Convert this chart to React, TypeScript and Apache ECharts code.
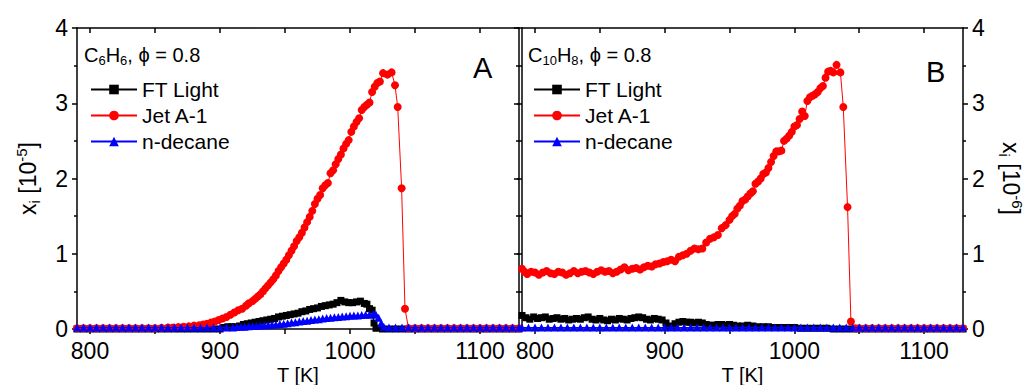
import React, { useEffect, useRef } from "react";
import * as echarts from "echarts";

const FONT = "'Liberation Sans', Arial, Helvetica, sans-serif";

const xMajor = [800, 900, 1000, 1100];
const xTicks = [800, 850, 900, 950, 1000, 1050, 1100];
const seriesNames = ["FT Light", "Jet A-1", "n-decane"];
const seriesColors = ["#000000", "#ff0000", "#0000ff"];
const seriesSymbols = ["rect", "circle", "triangle"];
const seriesSymbolSizes = [7, 8, 8];

// Panel A: C6H6, x_i in 1e-5
const A_ft: [number, number][] = [
  [790, 0], [795, 0], [800, 0], [805, 0], [810, 0], [815, 0], [820, 0], [825, 0], [830, 0], [835, 0],
  [840, 0], [845, 0], [850, 0], [855, 0], [860, 0], [865, 0], [870, 0], [875, 0], [880, 0], [885, 0],
  [890, 0], [895, 0], [900, 0], [903, 0.02], [906, 0.03], [909, 0.03], [912, 0.03], [915, 0.04], [918, 0.06],
  [921, 0.07], [924, 0.08], [927, 0.09], [930, 0.1], [933, 0.11], [936, 0.12], [939, 0.13], [942, 0.14],
  [945, 0.16], [948, 0.17], [951, 0.18], [954, 0.19], [957, 0.2], [960, 0.21], [963, 0.23], [966, 0.24],
  [969, 0.26], [972, 0.27], [975, 0.28], [978, 0.3], [981, 0.31], [984, 0.32], [987, 0.33], [990, 0.35],
  [993, 0.38], [996, 0.36], [999, 0.35], [1002, 0.35], [1005, 0.36], [1008, 0.37], [1011, 0.34], [1013, 0.33],
  [1015, 0.27], [1017, 0.25], [1018.5, 0.08], [1020, 0.01], [1025, 0], [1030, 0], [1035, 0], [1040, 0],
  [1045, 0], [1050, 0], [1055, 0], [1060, 0], [1065, 0], [1070, 0], [1075, 0], [1080, 0], [1085, 0],
  [1090, 0], [1095, 0], [1100, 0], [1105, 0], [1110, 0], [1115, 0], [1120, 0], [1125, 0], [1130, 0],
];
const A_jet: [number, number][] = [
  [790, 0.01], [795, 0.01], [800, 0.01], [805, 0.01], [810, 0.01], [815, 0.01], [820, 0.01], [825, 0.01],
  [830, 0.01], [835, 0.01], [840, 0.01], [845, 0.01], [850, 0.01], [855, 0.015], [860, 0.02], [864, 0.02],
  [868, 0.025], [872, 0.03], [876, 0.035], [880, 0.045], [884, 0.05], [887, 0.06], [890, 0.07], [893, 0.085],
  [896, 0.1], [899, 0.12], [902, 0.14], [905, 0.16], [908, 0.19], [911, 0.22], [914, 0.25], [917, 0.27],
  [920, 0.31], [922, 0.34], [925, 0.37], [927, 0.4], [929, 0.43], [931, 0.46], [933, 0.5], [935, 0.54],
  [937, 0.58], [939, 0.62], [941, 0.66], [943, 0.71], [945, 0.77], [947, 0.82], [949, 0.87], [951, 0.92],
  [953, 0.98], [955, 1.04], [957, 1.1], [959, 1.17], [961, 1.22], [963, 1.28], [965, 1.35], [967, 1.42],
  [969, 1.49], [971, 1.57], [973, 1.66], [975, 1.73], [977, 1.78], [979, 1.87], [981, 1.91], [983, 1.94],
  [985, 2.07], [987, 2.11], [989, 2.19], [991, 2.26], [993, 2.32], [995, 2.4], [997, 2.46], [999, 2.51],
  [1001, 2.62], [1003, 2.69], [1005, 2.75], [1007, 2.8], [1009, 2.91], [1011, 2.95], [1013, 2.98], [1015, 3.01],
  [1017, 3.15], [1019, 3.22], [1021, 3.27], [1023, 3.29], [1025.4, 3.4], [1028.8, 3.38], [1032, 3.41],
  [1034.6, 3.24], [1036.7, 2.95], [1039.7, 1.87], [1042.3, 0.27], [1045, 0.01], [1050, 0.01], [1055, 0.01],
  [1060, 0.01], [1065, 0.01], [1070, 0.01], [1075, 0.01], [1080, 0.01], [1085, 0.01], [1090, 0.01],
  [1095, 0.01], [1100, 0.01], [1105, 0.01], [1110, 0.01], [1115, 0.01], [1120, 0.01], [1125, 0.01], [1130, 0.01],
];
const A_dec: [number, number][] = [
  [790, 0.02], [795, 0.02], [800, 0.02], [805, 0.02], [810, 0.02], [815, 0.02], [820, 0.02], [825, 0.02],
  [830, 0.02], [835, 0.02], [840, 0.02], [845, 0.02], [850, 0.02], [855, 0.02], [860, 0.02], [865, 0.02],
  [870, 0.02], [875, 0.02], [880, 0.02], [885, 0.02], [890, 0.02], [895, 0.02], [900, 0.02], [905, 0.02],
  [910, 0.02], [913, 0.025], [916, 0.03], [919, 0.03], [922, 0.035], [925, 0.04], [928, 0.04], [931, 0.045],
  [934, 0.05], [937, 0.05], [940, 0.055], [943, 0.06], [946, 0.065], [949, 0.07], [952, 0.075], [955, 0.085],
  [958, 0.09], [961, 0.1], [964, 0.105], [967, 0.11], [970, 0.12], [973, 0.125], [976, 0.13], [979, 0.14],
  [982, 0.145], [985, 0.15], [988, 0.155], [991, 0.16], [994, 0.165], [997, 0.17], [1000, 0.175], [1003, 0.18],
  [1006, 0.18], [1009, 0.185], [1012, 0.19], [1015, 0.19], [1018, 0.2], [1020, 0.19], [1022, 0.15], [1024, 0.08],
  [1026, 0.03], [1030, 0.02], [1035, 0.02], [1040, 0.02], [1045, 0.02], [1050, 0.02], [1055, 0.02], [1060, 0.02],
  [1065, 0.02], [1070, 0.02], [1075, 0.02], [1080, 0.02], [1085, 0.02], [1090, 0.02], [1095, 0.02], [1100, 0.02],
  [1105, 0.02], [1110, 0.02], [1115, 0.02], [1120, 0.02], [1125, 0.02], [1130, 0.02],
];

// Panel B: C10H8, x_i in 1e-6
const B_ft: [number, number][] = [
  [790, 0.18], [793, 0.15], [796, 0.13], [799, 0.16], [802, 0.14], [805, 0.15], [808, 0.16], [811, 0.13],
  [814, 0.14], [817, 0.15], [820, 0.13], [823, 0.14], [826, 0.12], [829, 0.13], [832, 0.14], [835, 0.13],
  [838, 0.15], [841, 0.16], [844, 0.13], [847, 0.12], [850, 0.14], [853, 0.12], [856, 0.11], [859, 0.13],
  [862, 0.12], [865, 0.14], [868, 0.13], [871, 0.12], [874, 0.14], [877, 0.15], [880, 0.16], [883, 0.15],
  [886, 0.13], [889, 0.12], [892, 0.14], [895, 0.13], [898, 0.12], [901, 0.08], [903, 0.04], [905, 0.02],
  [908, 0.07], [911, 0.09], [914, 0.1], [917, 0.09], [920, 0.09], [923, 0.08], [926, 0.09], [929, 0.08],
  [932, 0.06], [935, 0.05], [938, 0.05], [941, 0.06], [944, 0.06], [947, 0.05], [950, 0.06], [953, 0.05],
  [956, 0.04], [960, 0.04], [964, 0.05], [968, 0.04], [972, 0.03], [976, 0.03], [980, 0.03], [985, 0.02],
  [990, 0.02], [995, 0.02], [1000, 0.02], [1005, 0.01], [1010, 0.01], [1015, 0.01], [1020, 0.01], [1025, 0.01],
  [1030, 0], [1035, 0], [1040, 0], [1045, 0], [1050, 0], [1055, 0], [1060, 0], [1065, 0], [1070, 0], [1075, 0],
  [1080, 0], [1085, 0], [1090, 0], [1095, 0], [1100, 0], [1105, 0], [1110, 0], [1115, 0], [1120, 0], [1125, 0], [1130, 0],
];
const B_jet: [number, number][] = [
  [790, 0.8], [792, 0.76], [794, 0.73], [797, 0.76], [800, 0.75], [803, 0.72], [806, 0.75], [809, 0.77],
  [812, 0.74], [815, 0.73], [818, 0.76], [821, 0.75], [824, 0.72], [827, 0.74], [830, 0.77], [833, 0.74],
  [836, 0.76], [839, 0.77], [842, 0.75], [845, 0.73], [848, 0.76], [851, 0.78], [854, 0.76], [857, 0.77],
  [860, 0.74], [863, 0.76], [866, 0.79], [869, 0.82], [872, 0.78], [875, 0.8], [878, 0.81], [881, 0.79],
  [884, 0.82], [887, 0.84], [890, 0.83], [893, 0.86], [896, 0.87], [899, 0.89], [902, 0.9], [905, 0.92],
  [908, 0.9], [911, 0.96], [914, 0.98], [917, 1.0], [920, 1.04], [923, 1.07], [926, 1.06], [929, 1.07],
  [932, 1.15], [935, 1.2], [938, 1.22], [941, 1.25], [944, 1.34], [947, 1.38], [950, 1.45], [952, 1.5],
  [954, 1.53], [956, 1.6], [958, 1.64], [960, 1.7], [962, 1.72], [964, 1.76], [966, 1.8], [968, 1.83],
  [970, 1.93], [972, 1.96], [974, 2.0], [976, 2.06], [978, 2.08], [980, 2.14], [982, 2.22], [984, 2.3],
  [986, 2.36], [988, 2.36], [990, 2.37], [992, 2.5], [994, 2.53], [996, 2.57], [998, 2.62], [1000, 2.69],
  [1002, 2.71], [1004, 2.79], [1006, 2.89], [1008, 2.83], [1010, 3.03], [1012, 3.08], [1014, 3.1], [1016, 3.12],
  [1018, 3.15], [1020, 3.2], [1022, 3.23], [1024, 3.34], [1026, 3.42], [1028, 3.43], [1030, 3.41], [1032.5, 3.51],
  [1035.5, 3.41], [1037.7, 2.95], [1041, 1.62], [1043.6, 0.1], [1047, 0.01], [1050, 0.01], [1055, 0.01],
  [1060, 0.01], [1065, 0.01], [1070, 0.01], [1075, 0.01], [1080, 0.01], [1085, 0.01], [1090, 0.01], [1095, 0.01],
  [1100, 0.01], [1105, 0.01], [1110, 0.01], [1115, 0.01], [1120, 0.01], [1125, 0.01], [1130, 0.01],
];
const B_dec: [number, number][] = [
  [790, 0.02], [795, 0.02], [800, 0.02], [805, 0.02], [810, 0.02], [815, 0.02], [820, 0.02], [825, 0.02],
  [830, 0.02], [835, 0.02], [840, 0.02], [845, 0.02], [850, 0.02], [855, 0.02], [860, 0.02], [865, 0.02],
  [870, 0.02], [875, 0.02], [880, 0.02], [885, 0.02], [890, 0.02], [895, 0.02], [900, 0.02], [905, 0.02],
  [910, 0.02], [915, 0.02], [920, 0.02], [925, 0.02], [930, 0.02], [935, 0.02], [940, 0.02], [945, 0.02],
  [950, 0.02], [955, 0.02], [960, 0.02], [965, 0.02], [970, 0.02], [975, 0.02], [980, 0.02], [985, 0.02],
  [990, 0.02], [995, 0.02], [1000, 0.02], [1005, 0.02], [1010, 0.02], [1015, 0.02], [1020, 0.02], [1025, 0.02],
  [1030, 0.02], [1035, 0.02], [1040, 0.02], [1045, 0.02], [1050, 0.02], [1055, 0.02], [1060, 0.02], [1065, 0.02],
  [1070, 0.02], [1075, 0.02], [1080, 0.02], [1085, 0.02], [1090, 0.02], [1095, 0.02], [1100, 0.02], [1105, 0.02],
  [1110, 0.02], [1115, 0.02], [1120, 0.02], [1125, 0.02], [1130, 0.02],
];

const panelAData = [A_ft, A_jet, A_dec];
const panelBData = [B_ft, B_jet, B_dec];

function buildOption(): any {
  const black = "#000";
  const axisLine = { show: true, onZero: false, lineStyle: { color: black, width: 1.5 } };
  const tickStyle = { color: black, width: 1.5 };
  const plain = (v: number) => String(v);

  const xAxis: any[] = [];
  [0, 1].forEach((g) => {
    xAxis.push({
      type: "value", gridIndex: g, position: "bottom", min: 790, max: 1130,
      axisLine,
      axisTick: { show: true, inside: false, length: 5, customValues: xTicks, lineStyle: tickStyle },
      axisLabel: { show: true, customValues: xMajor, formatter: plain, fontSize: 23, color: black, fontFamily: FONT, margin: 10 },
      splitLine: { show: false },
      name: "T [K]", nameLocation: "middle", nameGap: 36, nameMoveOverlap: false,
      nameTextStyle: { fontSize: 20, color: black, fontFamily: FONT },
    });
    xAxis.push({
      type: "value", gridIndex: g, position: "top", min: 790, max: 1130,
      axisLine,
      axisTick: { show: true, inside: true, length: 5, customValues: xTicks, lineStyle: tickStyle },
      axisLabel: { show: false },
      splitLine: { show: false },
    });
  });

  const rich = {
    n: { fontSize: 23, fontFamily: FONT, color: black, lineHeight: 28 },
    s: { fontSize: 15, fontFamily: FONT, color: black, lineHeight: 15, verticalAlign: "bottom" },
    p: { fontSize: 15, fontFamily: FONT, color: black, lineHeight: 15, verticalAlign: "top" },
  };

  const yBase = (g: number, pos: string, inside: boolean, labels: boolean) => ({
    type: "value", gridIndex: g, position: pos, min: 0, max: 4, interval: 1,
    axisLine,
    axisTick: { show: true, inside, length: 5, lineStyle: tickStyle },
    minorTick: { show: true, splitNumber: 2, length: 3, lineStyle: tickStyle },
    axisLabel: { show: labels, formatter: plain, fontSize: 23, color: black, fontFamily: FONT, margin: 9 },
    splitLine: { show: false },
    minorSplitLine: { show: false },
  });

  const yAxis: any[] = [
    {
      ...yBase(0, "left", false, true),
      name: "{n|x}{s|i}{n| [10}{p|-5}{n|]}", nameLocation: "middle", nameGap: 35, nameRotate: 90,
      nameTextStyle: { fontSize: 23, fontFamily: FONT, color: black, rich },
    },
    yBase(0, "right", true, false),
    yBase(1, "left", false, false),
    {
      ...yBase(1, "right", false, true),
      name: "{n|x}{s|i}{n| [10}{p|-6}{n|]}", nameLocation: "middle", nameGap: 34, nameRotate: -90,
      nameTextStyle: { fontSize: 23, fontFamily: FONT, color: black, rich },
    },
  ];

  const series: any[] = [];
  const mk = (data: [number, number][], i: number, xi: number, yi: number) => ({
    type: "line",
    name: seriesNames[i],
    xAxisIndex: xi,
    yAxisIndex: yi,
    data,
    symbol: seriesSymbols[i],
    symbolSize: seriesSymbolSizes[i],
    showSymbol: true,
    showAllSymbol: true,
    clip: true,
    lineStyle: { color: seriesColors[i], width: 1 },
    itemStyle: { color: seriesColors[i], borderWidth: 0 },
    z: 2 + i,
  });
  panelAData.forEach((d, i) => series.push(mk(d, i, 0, 0)));
  panelBData.forEach((d, i) => series.push(mk(d, i, 2, 3)));

  const legendBase = {
    orient: "vertical",
    top: 74,
    itemWidth: 46,
    itemHeight: 12,
    itemGap: 5,
    data: seriesNames,
    selectedMode: false,
    textStyle: { fontSize: 21, color: black, fontFamily: FONT },
  };

  const titleRich = {
    n: { fontSize: 20, fontFamily: FONT, fill: black, lineHeight: 24 },
    s: { fontSize: 13, fontFamily: FONT, fill: black, lineHeight: 13, verticalAlign: "bottom" },
  };

  return {
    animation: false,
    backgroundColor: "#fff",
    grid: [
      { left: 77, top: 28, width: 442, height: 301, containLabel: false, outerBoundsMode: "none" },
      { left: 522, top: 28, width: 441, height: 301, containLabel: false, outerBoundsMode: "none" },
    ],
    xAxis,
    yAxis,
    series,
    legend: [
      { ...legendBase, left: 85 },
      { ...legendBase, left: 528 },
    ],
    graphic: [
      {
        type: "text", x: 84, y: 55, z: 10,
        style: { text: "{n|C}{s|6}{n|H}{s|6}{n|, ϕ = 0.8}", rich: titleRich, fill: black, verticalAlign: "middle", align: "left" },
      },
      {
        type: "text", x: 528, y: 55, z: 10,
        style: { text: "{n|C}{s|10}{n|H}{s|8}{n|, ϕ = 0.8}", rich: titleRich, fill: black, verticalAlign: "middle", align: "left" },
      },
      {
        type: "text", x: 473, y: 68, z: 10,
        style: { text: "A", fontSize: 29, fontFamily: FONT, fill: black, verticalAlign: "middle", align: "left" },
      },
      {
        type: "text", x: 926, y: 72, z: 10,
        style: { text: "B", fontSize: 29, fontFamily: FONT, fill: black, verticalAlign: "middle", align: "left" },
      },
    ],
  };
}

export default function App() {
  const ref = useRef<HTMLDivElement>(null);
  useEffect(() => {
    document.body.style.margin = "0";
    if (!ref.current) return;
    const chart = echarts.init(ref.current, undefined, { renderer: "svg" });
    chart.setOption(buildOption());
    return () => chart.dispose();
  }, []);
  return <div ref={ref} style={{ width: 1025, height: 385 }} />;
}
